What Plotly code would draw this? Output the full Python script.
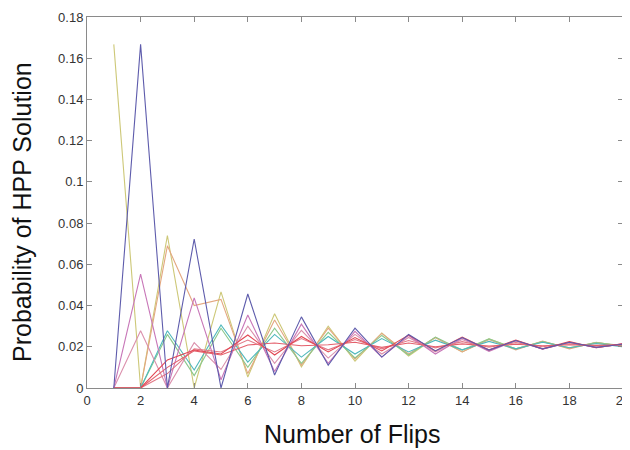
import plotly.graph_objects as go

flips = list(range(1, 21))

yellow = [0.1667, 0, 0.074, 0, 0.0466, 0.0053, 0.036, 0.0102, 0.030, 0.013, 0.0267, 0.0155, 0.0245, 0.0175, 0.0238, 0.019, 0.0225, 0.0193, 0.022, 0.0203]
purple = [0, 0.1667, 0, 0.0723, 0, 0.0456, 0.0063, 0.0345, 0.011, 0.029, 0.015, 0.026, 0.018, 0.0245, 0.0184, 0.023, 0.019, 0.0222, 0.0197, 0.0213]
magenta = [0, 0.0553, 0, 0.0437, 0.004, 0.0354, 0.008, 0.031, 0.012, 0.0275, 0.015, 0.0255, 0.0165, 0.0242, 0.0178, 0.023, 0.0188, 0.0222, 0.0195, 0.0215]
pink = [0, 0.0278, 0, 0.022, 0.009, 0.030, 0.012, 0.028, 0.0145, 0.026, 0.0165, 0.0245, 0.0175, 0.0235, 0.0185, 0.0228, 0.019, 0.022, 0.0198, 0.0212]
orange = [0, 0, 0.069, 0.040, 0.043, 0.007, 0.033, 0.011, 0.029, 0.014, 0.0265, 0.0165, 0.0245, 0.0175, 0.0235, 0.0185, 0.0228, 0.019, 0.0222, 0.0202]
cyan = [0, 0, 0.0278, 0.0087, 0.0306, 0.0126, 0.026, 0.015, 0.025, 0.0165, 0.024, 0.0175, 0.0232, 0.0185, 0.0226, 0.019, 0.0222, 0.0195, 0.0216, 0.020]
green = [0, 0, 0.026, 0.006, 0.029, 0.010, 0.029, 0.012, 0.027, 0.0146, 0.0255, 0.016, 0.0247, 0.0184, 0.0238, 0.019, 0.0225, 0.0195, 0.022, 0.0205]
red1 = [0, 0, 0.0136, 0.0184, 0.0165, 0.0257, 0.016, 0.025, 0.0175, 0.0245, 0.018, 0.0257, 0.018, 0.0247, 0.0184, 0.0233, 0.019, 0.0225, 0.0195, 0.0215]
red2 = [0, 0, 0.010, 0.018, 0.016, 0.0209, 0.0218, 0.0205, 0.021, 0.0222, 0.0197, 0.0218, 0.020, 0.0214, 0.0203, 0.0212, 0.0205, 0.021, 0.0207, 0.0209]
red3 = [0, 0, 0.007, 0.019, 0.0175, 0.0233, 0.0175, 0.024, 0.0185, 0.0235, 0.019, 0.023, 0.0195, 0.0225, 0.0198, 0.022, 0.020, 0.0215, 0.0203, 0.0212]

series = [
    ("yellow", yellow, "#cdc878"),
    ("orange", orange, "#e3a780"),
    ("green", green, "#8cc88c"),
    ("cyan", cyan, "#4fb8bc"),
    ("pink", pink, "#db90ac"),
    ("magenta", magenta, "#c877b8"),
    ("red3", red3, "#e27a88"),
    ("red2", red2, "#e4606c"),
    ("red1", red1, "#e24854"),
    ("purple", purple, "#5e5cac"),
]

x_ticks = [0, 2, 4, 6, 8, 10, 12, 14, 16, 18, 20]
x_tick_text = ["0", "2", "4", "6", "8", "10", "12", "14", "16", "18", "20"]
y_ticks = [0, 0.02, 0.04, 0.06, 0.08, 0.1, 0.12, 0.14, 0.16, 0.18]
y_tick_text = ["0", "0.02", "0.04", "0.06", "0.08", "0.1", "0.12", "0.14", "0.16", "0.18"]

fig = go.Figure()
for name, vals, color in series:
    fig.add_trace(go.Scatter(x=flips, y=vals, mode="lines", name=name,
                             line=dict(color=color, width=1.1), showlegend=False))

axis_common = dict(showline=True, linecolor="#8a8a8a", linewidth=1, mirror="ticks",
                   ticks="inside", ticklen=5, tickcolor="#8a8a8a", showgrid=False,
                   zeroline=False, automargin=False,
                   tickfont=dict(family="Liberation Sans, Arial", size=13, color="#333333"))

fig.update_xaxes(range=[0, 20], tickvals=x_ticks, ticktext=x_tick_text, **axis_common)
fig.update_yaxes(range=[0, 0.18], tickvals=y_ticks, ticktext=y_tick_text, **axis_common)

# page body has an 8px default offset; margins compensate so the plot lands where the reference has it
L, T, R, B = 79, 9, 15, 70
fig.update_layout(
    width=630, height=450,
    margin=dict(l=L, r=R, t=T, b=B),
    plot_bgcolor="white", paper_bgcolor="white",
    font=dict(family="Liberation Sans, Arial", color="#111111"),
)
plot_w = 630 - L - R
plot_h = 450 - T - B
fig.add_annotation(text="Number of Flips", xref="paper", yref="paper",
                   x=(344 - L) / plot_w, y=-(426 - (450 - B)) / plot_h,
                   xanchor="center", yanchor="middle",
                   showarrow=False, font=dict(size=25, color="#111111"))
fig.add_annotation(text="Probability of HPP Solution", xref="paper", yref="paper",
                   x=-(L - 14) / plot_w, y=((450 - B) - 204) / plot_h, textangle=-90,
                   xanchor="center", yanchor="middle",
                   showarrow=False, font=dict(size=25, color="#111111"))

fig.write_html("out.html")
